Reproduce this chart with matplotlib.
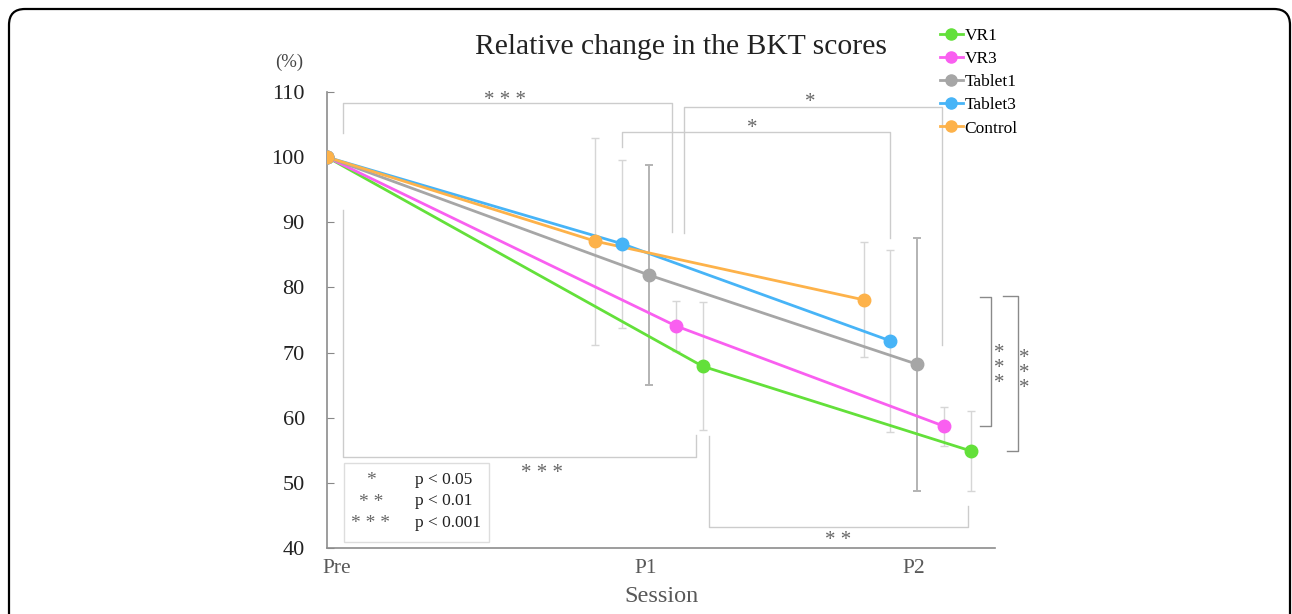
import matplotlib
matplotlib.use("Agg")
import matplotlib.pyplot as plt
from matplotlib.patches import FancyBboxPatch, Rectangle
from matplotlib.lines import Line2D
from matplotlib.transforms import IdentityTransform

plt.rcParams['font.family'] = ['Liberation Serif', 'DejaVu Serif']

# ---- data ----
sessions = ["Pre", "P1", "P2"]
session_x = [0.0, 1.2, 2.2]
groups = ["VR1", "VR3", "Tablet1", "Tablet3", "Control"]
colors = ["#63e03a", "#f95ff0", "#a6a6a6", "#47b4f7", "#fdb24a"]
offsets = [0.2, 0.1, 0.0, -0.1, -0.2]
means = {
    "VR1":     [100, 67.9, 54.9],
    "VR3":     [100, 74.1, 58.7],
    "Tablet1": [100, 81.9, 68.2],
    "Tablet3": [100, 86.7, 71.8],
    "Control": [100, 87.1, 78.1],
}
sds = {
    "VR1":     [0, 9.8, 6.1],
    "VR3":     [0, 3.8, 3.0],
    "Tablet1": [0, 16.9, 19.4],
    "Tablet3": [0, 12.9, 14.0],
    "Control": [0, 15.9, 8.8],
}

fig = plt.figure(figsize=(12.92, 6.14), dpi=100)
ax = fig.add_axes([327/1292, 1-548/614, (995-327)/1292, (548-92)/614])

handles = []
for g, c, off in zip(groups, colors, offsets):
    xs = [session_x[0]] + [sx + off for sx in session_x[1:]]
    ys = means[g]
    ecol = "#b3b3b3" if g == "Tablet1" else "#d6d6d6"
    elw = 1.4 if g == "Tablet1" else 1.0
    ax.errorbar(xs[1:], ys[1:], yerr=sds[g][1:], fmt='none', ecolor=ecol,
                elinewidth=elw, capsize=3, capthick=elw, zorder=2)
    ax.plot(xs, ys, '-', color=c, lw=2.0, zorder=3)
    ax.plot(xs, ys, 'o', color=c, ms=9, zorder=4)
    handles.append(Line2D([], [], color=c, lw=2.0, marker='o', ms=8, label=g))

ax.set_xlim(0, 2.49)
ax.set_ylim(40, 110)
ax.set_yticks(range(40, 111, 10))
ax.tick_params(axis='y', direction='in', length=5, color='#888888',
               labelsize=16, labelcolor='#222222', pad=16)
ax.set_xticks([0.037, 1.187, 2.187])
ax.set_xticklabels(sessions)
ax.tick_params(axis='x', length=0, labelsize=15.5, labelcolor='#595959', pad=8)
for s in ['top', 'right']:
    ax.spines[s].set_visible(False)
for s in ['left', 'bottom']:
    ax.spines[s].set_color('#8c8c8c')
    ax.spines[s].set_linewidth(1.2)
ax.set_xlabel("Session", fontsize=17.5, color='#595959', labelpad=6)

fig.text(289/1292, 1-62/614, "(%)", fontsize=13.5, color='#444444',
         ha='center', va='center')
fig.text(681/1292, 1-47/614, "Relative change in the BKT scores",
         fontsize=21.3, color='#222222', ha='center', va='center')

# ---- significance brackets ----
bc = '#cccccc'
def br(pts, col=bc, lw=1.0):
    xs, ys = zip(*pts)
    ax.plot(xs, ys, '-', color=col, lw=lw, clip_on=False, zorder=1)

br([(0.06, 103.7), (0.06, 108.3), (1.287, 108.3), (1.287, 88.5)])
br([(1.332, 88.4), (1.332, 107.7), (2.291, 107.7), (2.291, 71.2)])
br([(1.10, 101.6), (1.10, 103.9), (2.097, 103.9), (2.097, 87.6)])
br([(0.06, 91.9), (0.06, 54.0), (1.375, 54.0), (1.375, 57.3)])
br([(1.425, 57.2), (1.425, 43.2), (2.39, 43.2), (2.39, 46.4)])
dc = '#8a8a8a'
br([(2.433, 78.5), (2.476, 78.5), (2.476, 58.7), (2.433, 58.7)], col=dc)
br([(2.52, 78.7), (2.574, 78.7), (2.574, 54.9), (2.536, 54.9)], col=dc)

sc = '#666666'
af = 15
ax.text(0.664, 108.7, "* * *", fontsize=af, color=sc, ha='center', va='center')
ax.text(1.802, 108.4, "*", fontsize=af, color=sc, ha='center', va='center')
ax.text(1.586, 104.4, "*", fontsize=af, color=sc, ha='center', va='center')
ax.text(0.80, 51.4, "* * *", fontsize=af, color=sc, ha='center', va='center')
ax.text(1.907, 41.2, "* *", fontsize=af, color=sc, ha='center', va='center')
ax.text(2.504, 67.6, "*\n*\n*", fontsize=af, color=sc, ha='center', va='center',
        linespacing=0.72, clip_on=False)
ax.text(2.60, 66.8, "*\n*\n*", fontsize=af, color=sc, ha='center', va='center',
        linespacing=0.72, clip_on=False)

# p-value key
ax.add_patch(Rectangle((0.063, 40.9), 0.541, 12.1, fill=False,
                       edgecolor='#dddddd', lw=1.0, zorder=1))
keys = ["*", "* *", "* * *"]
ptxt = ["p < 0.05", "p < 0.01", "p < 0.001"]
for i, (k, p) in enumerate(zip(keys, ptxt)):
    yy = 50.5 - i * 3.3
    ax.text(0.164, yy - 0.2, k, fontsize=14, color=sc, ha='center', va='center')
    ax.text(0.328, yy, p, fontsize=12.5, color='#222222', ha='left', va='center')

fig.legend(handles=handles, loc='upper left',
           bbox_to_anchor=(940/1292, 1-28/614),
           bbox_transform=fig.transFigure, frameon=False, fontsize=12.5,
           handlelength=1.3, handletextpad=0.1, labelspacing=0.40,
           borderpad=0, borderaxespad=0)

border = FancyBboxPatch((9, -40), 1281, 614 - 9 + 40,
                        boxstyle="round,pad=0,rounding_size=16",
                        transform=IdentityTransform(), fill=False,
                        edgecolor='black', lw=1.6)
fig.add_artist(border)

fig.savefig("out.png", dpi=100)
